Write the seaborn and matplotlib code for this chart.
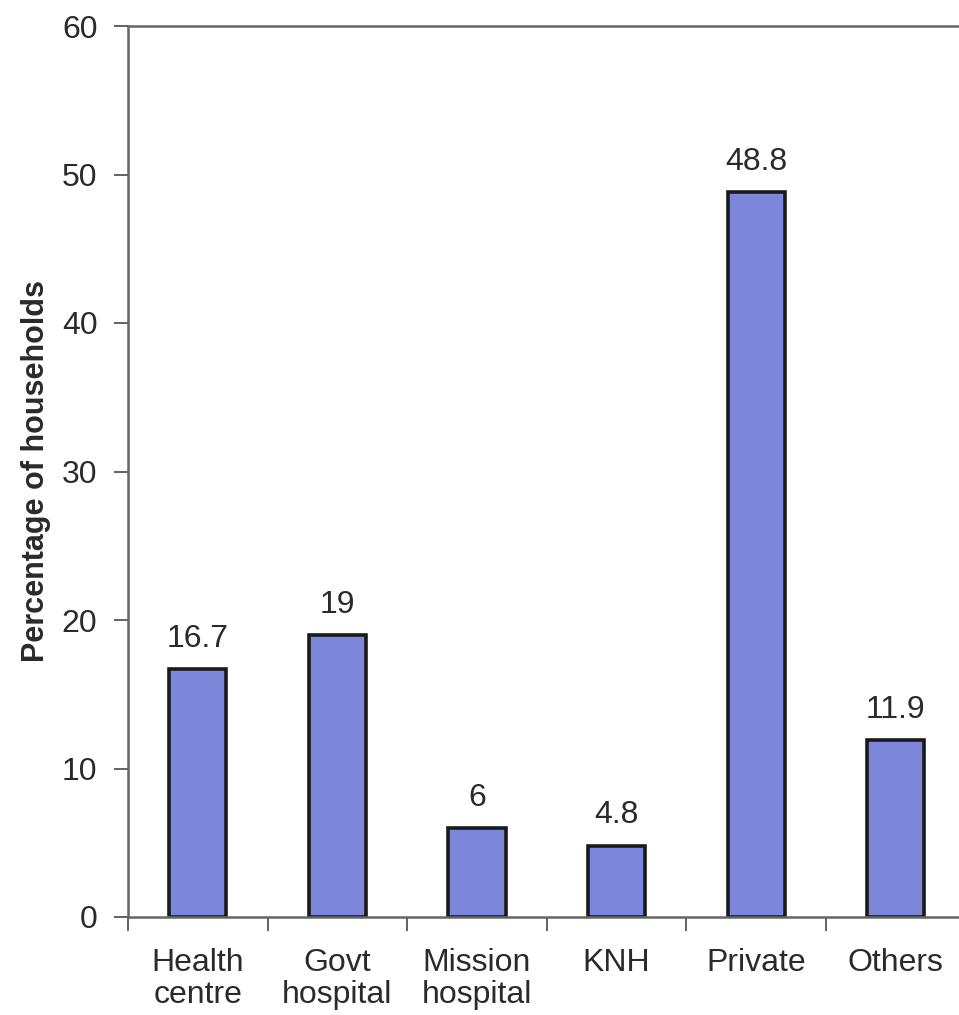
import matplotlib
matplotlib.use("Agg")
import matplotlib.pyplot as plt
from matplotlib.ticker import FixedLocator
import seaborn as sns
import pandas as pd

categories = ["Health\ncentre", "Govt\nhospital", "Mission\nhospital", "KNH", "Private", "Others"]
values = [16.7, 19, 6, 4.8, 48.8, 11.9]
value_labels = ["16.7", "19", "6", "4.8", "48.8", "11.9"]
y_ticks = [0, 10, 20, 30, 40, 50, 60]

sns.set_theme(style="white")
plt.rcParams["font.family"] = ["Liberation Sans", "DejaVu Sans"]

df = pd.DataFrame({"facility": categories, "pct": values})

fig = plt.figure(figsize=(9.59, 10.15), dpi=100)
ax = fig.add_axes([128 / 959, 1 - 917 / 1015, 837.6 / 959, (917 - 26) / 1015])

sns.barplot(data=df, x="facility", y="pct", color="#7C87DC", saturation=1,
            edgecolor="#1a1a1a", linewidth=2.6, width=0.41, ax=ax)

for i, (v, lab) in enumerate(zip(values, value_labels)):
    ax.annotate(lab, (i, v), xytext=(0, 11), textcoords="offset points",
                ha="center", va="bottom", fontsize=23, color="#2a2a2a")

ax.set_xlim(-0.5, 5.5)
ax.set_ylim(0, 60)
ax.set_yticks(y_ticks)
ax.set_yticklabels([str(t) for t in y_ticks])
ax.set_xlabel("")
ax.set_ylabel("Percentage of households", fontsize=22, fontweight="bold",
              color="#2a2a2a", labelpad=8)

# category labels at bar centres, tick marks at category boundaries
ax.tick_params(axis="x", which="major", length=0, pad=22, labelsize=23,
               labelcolor="#2a2a2a")
for t in ax.get_xticklabels():
    t.set_linespacing(1.1)
ax.xaxis.set_minor_locator(FixedLocator([-0.5, 0.5, 1.5, 2.5, 3.5, 4.5]))
ax.tick_params(axis="x", which="minor", bottom=True, length=10, width=1.3,
               color="#555555", direction="out")
ax.tick_params(axis="y", left=True, length=10, width=1.3, color="#555555",
               direction="out", pad=12, labelsize=23, labelcolor="#2a2a2a")

for side in ["left", "bottom", "top"]:
    ax.spines[side].set_visible(True)
    ax.spines[side].set_color("#666666")
    ax.spines[side].set_linewidth(1.8)
ax.spines["right"].set_visible(False)

fig.savefig("out.png", dpi=100, facecolor="white")
